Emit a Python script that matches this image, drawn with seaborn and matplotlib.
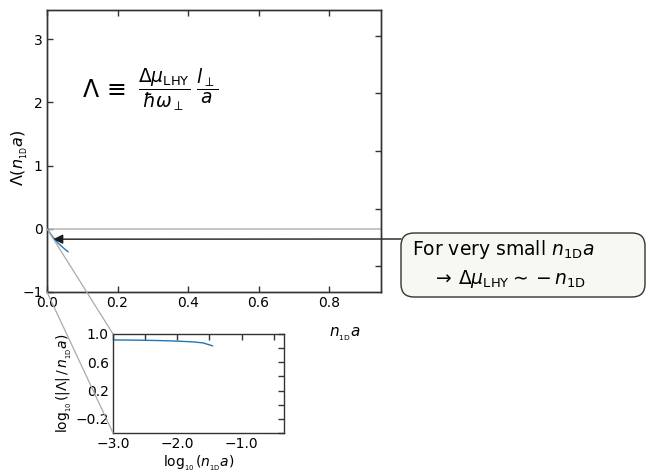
import matplotlib
matplotlib.use("Agg")
import matplotlib.pyplot as plt
import seaborn as sns
import pandas as pd
from matplotlib.patches import ConnectionPatch, FancyBboxPatch

# main panel: Lambda(n_1D a) for small densities
n_main = [0.0, 0.01, 0.02, 0.03, 0.04, 0.05, 0.06]
lam_main = [0.0, -0.080, -0.152, -0.218, -0.270, -0.320, -0.365]

# inset: log10(|Lambda| / n_1D a) vs log10(n_1D a)
logn_inset = [-3.0, -2.75, -2.5, -2.25, -2.0, -1.75, -1.6, -1.45]
logratio_inset = [0.916, 0.914, 0.911, 0.906, 0.899, 0.888, 0.874, 0.832]

main_xticks = [0.0, 0.2, 0.4, 0.6, 0.8]
main_yticks = [-1, 0, 1, 2, 3]
inset_xticks = [-3.0, -2.5, -2.0, -1.5, -1.0, -0.5]
inset_yticks = [-0.4, -0.2, 0.0, 0.2, 0.4, 0.6, 0.8, 1.0]

sns.set_theme(style="white")
plt.rcParams["font.family"] = ["DejaVu Sans"]
plt.rcParams["mathtext.fontset"] = "dejavusans"
plt.rcParams["axes.edgecolor"] = "#333333"
plt.rcParams["axes.linewidth"] = 1.0
plt.rcParams["text.color"] = "black"
plt.rcParams["axes.labelcolor"] = "black"
plt.rcParams["xtick.color"] = "black"
plt.rcParams["ytick.color"] = "black"

W, H = 647, 473
fig = plt.figure(figsize=(W / 100, H / 100), dpi=100)
ax = fig.add_axes([0.0726, 0.3827, 0.5162, 0.5962])

df_main = pd.DataFrame({"n": n_main, "lam": lam_main})
ax.axhline(0, color="#bbbbbb", lw=1.2, zorder=1)
sns.lineplot(data=df_main, x="n", y="lam", ax=ax, color="#1f77b4", lw=1.0)
ax.set_xlim(0, 0.947)
ax.set_ylim(-1, 3.46)
ax.set_xticks(main_xticks)
ax.set_yticks(main_yticks)
ax.set_xticklabels([f"{t:.1f}" for t in main_xticks])
ax.set_yticklabels(["\u22121", "0", "1", "2", "3"])
ax.tick_params(direction="in", length=4, width=1, color="#333333",
               labelsize=10, top=True, bottom=True, left=True, right=False, pad=3)
ax.set_xlabel(r"$n_{_{\rm 1D}}a$", fontsize=11)
ax.xaxis.set_label_coords(0.89, -0.12)
ax.set_ylabel(r"$\Lambda(n_{_{\rm 1D}}a)$", fontsize=11.5)
ax.yaxis.set_label_coords(-0.052, 0.475)

axr = ax.twinx()
axr.set_ylim(-0.45, 4.45)
axr.set_yticks([0, 1, 2, 3, 4])
axr.set_yticklabels([])
axr.tick_params(direction="in", length=4, width=1, color="#333333", right=True)

# definition of Lambda
ax.text(0.1, 2.2, r"$\Lambda\,\equiv$", fontsize=17, ha="left", va="center")
ax.text(0.258, 2.2, r"$\dfrac{\Delta\mu_{\rm LHY}}{\hbar\omega_\perp}\ \dfrac{l_\perp}{a}$",
        fontsize=13.5, ha="left", va="center")

# note box and arrow
box = FancyBboxPatch((401 / W, 1 - 297 / H), 244 / W, 64 / H,
                     boxstyle="round,pad=0,rounding_size=0.02",
                     transform=fig.transFigure, fc="#f8f8f2", ec="#333333",
                     lw=1.0, mutation_aspect=W / H, zorder=5)
fig.add_artist(box)
fig.text(412 / W, 1 - 255 / H, r"For very small $n_{\rm 1D}a$",
         fontsize=13.5, ha="left", va="baseline", zorder=6)
fig.text(432 / W, 1 - 284 / H, r"$\rightarrow\,\Delta\mu_{\rm LHY} \sim -n_{\rm 1D}$",
         fontsize=13.5, ha="left", va="baseline", zorder=6)
ax.annotate("", xy=(0.018, -0.165), xycoords="data",
            xytext=(401, H - 239), textcoords="figure pixels",
            arrowprops=dict(arrowstyle="-|>", color="k", lw=1.0,
                            shrinkA=0, shrinkB=0, mutation_scale=14),
            annotation_clip=False)

# inset
axin = fig.add_axes([0.1747, 0.0846, 0.2643, 0.2093])
df_in = pd.DataFrame({"logn": logn_inset, "logr": logratio_inset})
sns.lineplot(data=df_in, x="logn", y="logr", ax=axin, color="#1f77b4", lw=1.0)
axin.set_xlim(-3.0, -0.34)
axin.set_ylim(-0.4, 1.0)
axin.set_xticks(inset_xticks)
axin.set_xticklabels(["\u22123.0", "", "\u22122.0", "", "\u22121.0", ""])
axin.set_yticks(inset_yticks)
axin.set_yticklabels(["", "\u22120.2", "", "0.2", "", "0.6", "", "1.0"])
axin.tick_params(direction="in", length=4, width=1, color="#333333",
                 labelsize=10, top=True, right=True, pad=3)
axin.set_xlabel(r"$\log_{_{10}}(n_{_{\rm 1D}}a)$", fontsize=10, labelpad=2)
axin.set_ylabel(r"$\log_{_{10}}(|\Lambda|\,/\,n_{_{\rm 1D}}a)$", fontsize=10, labelpad=1)

for xyA, xyB in [((0, 0), (0, 1)), ((0, -1), (0, 0))]:
    con = ConnectionPatch(xyA=xyA, coordsA=ax.transData,
                          xyB=xyB, coordsB=axin.transAxes,
                          color="#aaaaaa", lw=0.9)
    fig.add_artist(con)

fig.savefig("out.png", dpi=100)
